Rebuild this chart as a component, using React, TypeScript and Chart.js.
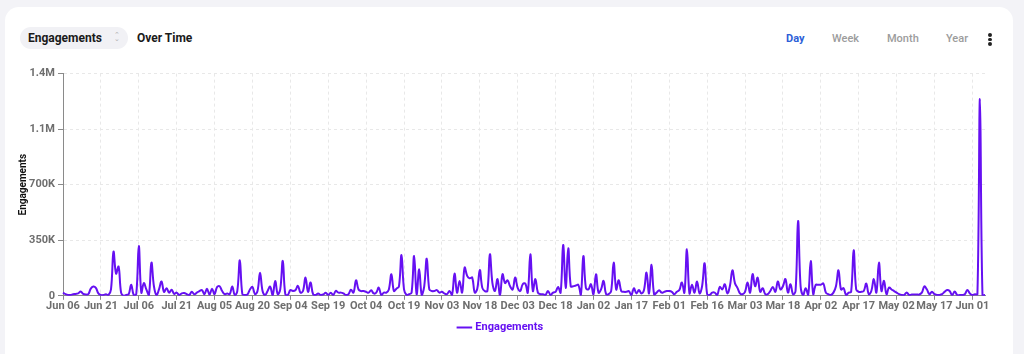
import React, { useEffect, useRef } from "react";
import { Chart, registerables } from "chart.js";

Chart.register(...registerables);

const START_DATE = "2022-06-06";
const SERIES_NAME = "Engagements";
const LINE_COLOR = "#6610f2";

// Daily engagements (thousands), Jun 06 -> Jun 06
const engagementsK: number[] = [
  20, 10, 5, 5, 10, 12, 15, 27, 12, 8,
  10, 45, 58, 50, 15, 5, 5, 10, 5, 40,
  278, 140, 184, 20, 0, 5, 10, 69, 5, 10,
  314, 20, 80, 40, 5, 209, 60, 5, 40, 90,
  25, 48, 20, 38, 12, 20, 5, 15, 17, 10,
  5, 25, 10, 20, 30, 36, 10, 44, 8, 44,
  10, 55, 60, 30, 10, 15, 10, 58, 5, 30,
  224, 10, 5, 8, 40, 56, 10, 30, 146, 30,
  5, 30, 58, 5, 94, 10, 40, 220, 10, 5,
  36, 30, 35, 63, 20, 30, 115, 25, 84, 10,
  5, 15, 5, 8, 19, 5, 20, 5, 31, 20,
  20, 15, 5, 10, 38, 20, 98, 40, 30, 30,
  25, 20, 35, 15, 20, 52, 5, 20, 20, 40,
  136, 30, 45, 60, 257, 40, 5, 10, 20, 251,
  10, 167, 5, 60, 234, 40, 30, 30, 36, 20,
  25, 15, 10, 30, 5, 140, 20, 94, 20, 178,
  126, 110, 115, 20, 45, 163, 50, 30, 30, 262,
  80, 30, 105, 5, 136, 80, 98, 60, 40, 115,
  50, 30, 73, 77, 20, 262, 30, 105, 20, 10,
  10, 5, 31, 5, 20, 25, 56, 20, 320, 50,
  300, 60, 60, 65, 69, 5, 251, 50, 40, 73,
  10, 136, 20, 40, 94, 10, 10, 30, 209, 40,
  98, 30, 25, 25, 30, 5, 48, 15, 36, 15,
  36, 146, 15, 195, 10, 20, 35, 20, 25, 30,
  30, 25, 10, 25, 36, 84, 20, 293, 15, 69,
  20, 90, 15, 60, 205, 10, 5, 20, 20, 5,
  56, 40, 73, 15, 60, 161, 80, 50, 15, 10,
  25, 84, 20, 136, 60, 115, 25, 48, 10, 10,
  30, 56, 25, 90, 40, 60, 105, 20, 73, 10,
  30, 471, 60, 5, 48, 5, 220, 10, 69, 69,
  70, 77, 20, 10, 5, 20, 60, 161, 40, 48,
  5, 20, 25, 287, 40, 25, 25, 30, 77, 10,
  30, 105, 20, 209, 30, 94, 10, 52, 40, 30,
  20, 10, 5, 5, 21, 5, 8, 8, 8, 8,
  20, 59, 40, 10, 25, 10, 5, 5, 10, 25,
  36, 30, 5, 27, 5, 5, 5, 10, 36, 15,
  5, 10, 10, 1240, 5, 5,
];

const Y_TICKS = [0, 350000, 700000, 1050000, 1400000];
const LABEL_EVERY = 15;
const MONTHS = ["Jan", "Feb", "Mar", "Apr", "May", "Jun", "Jul", "Aug", "Sep", "Oct", "Nov", "Dec"];

function buildLabels(start: string, n: number): string[] {
  const out: string[] = [];
  const d0 = new Date(start + "T00:00:00Z");
  for (let i = 0; i < n; i++) {
    const d = new Date(d0.getTime() + i * 86400000);
    out.push(MONTHS[d.getUTCMonth()] + " " + String(d.getUTCDate()).padStart(2, "0"));
  }
  return out;
}

const categories = buildLabels(START_DATE, engagementsK.length);

function fmt(v: number): string {
  if (v >= 1000000) return (v / 1000000).toFixed(1) + "M";
  if (v >= 1000) return Math.round(v / 1000) + "K";
  return String(v);
}

export default function App() {
  const ref = useRef<HTMLCanvasElement | null>(null);
  useEffect(() => {
    if (!ref.current) return;
    const font = "Roboto";
    const chart = new Chart(ref.current, {
      type: "line",
      data: {
        labels: categories,
        datasets: [
          {
            label: SERIES_NAME,
            data: engagementsK.map((v) => v * 1000),
            borderColor: LINE_COLOR,
            backgroundColor: LINE_COLOR,
            borderWidth: 2,
            pointRadius: 0,
            tension: 0.4,
            fill: false,
          },
        ],
      },
      options: {
        animation: false,
        responsive: false,
        maintainAspectRatio: false,
        layout: { padding: { top: 4, right: 30, left: 2, bottom: 0 } },
        plugins: {
          tooltip: { enabled: false },
          legend: {
            position: "bottom",
            labels: {
              usePointStyle: true,
              pointStyle: "line",
              boxWidth: 12,
              color: LINE_COLOR,
              font: { family: font, size: 11, weight: "bold" },
              padding: 9,
            },
          },
        },
        scales: {
          x: {
            type: "category",
            offset: false,
            border: { display: true, color: "#8a8a8a", width: 1, dash: [3, 3] },
            grid: {
              color: "#e8e8e8",
              tickColor: "#8a8a8a",
              tickBorderDash: [],
              tickLength: 4,
            } as any,
            ticks: {
              autoSkip: false,
              maxRotation: 0,
              minRotation: 0,
              color: "#6e6e6e",
              padding: 0,
              font: { family: font, size: 11, weight: "bold" },
              callback: (_v: any, i: number) => (i % LABEL_EVERY === 0 ? categories[i] : null),
            },
          },
          y: {
            min: 0,
            max: 1400000,
            afterBuildTicks: (scale: any) => {
              scale.ticks = Y_TICKS.map((v) => ({ value: v }));
            },
            afterFit: (scale: any) => {
              scale.width = 46;
            },
            border: { display: true, color: "#8a8a8a", width: 1, dash: [3, 3] },
            grid: {
              color: "#e8e8e8",
              tickColor: "#8a8a8a",
              tickBorderDash: [],
              tickLength: 5,
            } as any,
            title: {
              display: true,
              text: SERIES_NAME,
              color: "#111",
              font: { family: font, size: 10, weight: "bold" },
              padding: 0,
            },
            ticks: {
              color: "#6e6e6e",
              padding: 3,
              font: { family: font, size: 11, weight: "bold" },
              callback: (v: any) => fmt(Number(v)),
            },
          },
        },
      },
    });
    return () => chart.destroy();
  }, []);

  const textBase: React.CSSProperties = {
    position: "absolute",
    fontFamily: "Roboto, sans-serif",
    fontSize: 11,
    lineHeight: "14px",
    whiteSpace: "nowrap",
  };

  return (
    <div
      style={{
        position: "fixed",
        left: 0,
        top: 0,
        width: 1024,
        height: 354,
        background: "#f3f3f7",
        overflow: "hidden",
      }}
    >
      <div
        style={{
          position: "absolute",
          left: 5,
          top: 7,
          width: 1008,
          height: 380,
          background: "#fff",
          borderRadius: 14,
        }}
      />
      <div
        style={{
          position: "absolute",
          left: 20,
          top: 27,
          width: 108,
          height: 22,
          background: "#f1f1f5",
          borderRadius: 11,
        }}
      />
      <div style={{ ...textBase, left: 28, top: 31, fontSize: 12, fontWeight: 700, color: "#1a1a1a" }}>
        Engagements
      </div>
      <div style={{ ...textBase, left: 114, top: 33, fontSize: 7, color: "#b0b0b0", lineHeight: "4px" }}>
        <div>⌃</div>
        <div>⌄</div>
      </div>
      <div style={{ ...textBase, left: 137, top: 31, fontSize: 12, fontWeight: 700, color: "#1a1a1a" }}>
        Over Time
      </div>
      <div style={{ ...textBase, left: 786, top: 32, fontWeight: 700, color: "#2d5fd8" }}>Day</div>
      <div style={{ ...textBase, left: 832, top: 32, fontWeight: 500, color: "#9c9c9c" }}>Week</div>
      <div style={{ ...textBase, left: 887, top: 32, fontWeight: 500, color: "#9c9c9c" }}>Month</div>
      <div style={{ ...textBase, left: 946, top: 32, fontWeight: 500, color: "#9c9c9c" }}>Year</div>
      {[0, 1, 2].map((i) => (
        <div
          key={i}
          style={{
            position: "absolute",
            left: 988,
            top: 33 + i * 4.5,
            width: 3.5,
            height: 3.5,
            borderRadius: 2,
            background: "#222",
          }}
        />
      ))}
      <canvas
        ref={ref}
        width={1000}
        height={279}
        style={{ position: "absolute", left: 15, top: 64, width: 1000, height: 279 }}
      />
    </div>
  );
}
